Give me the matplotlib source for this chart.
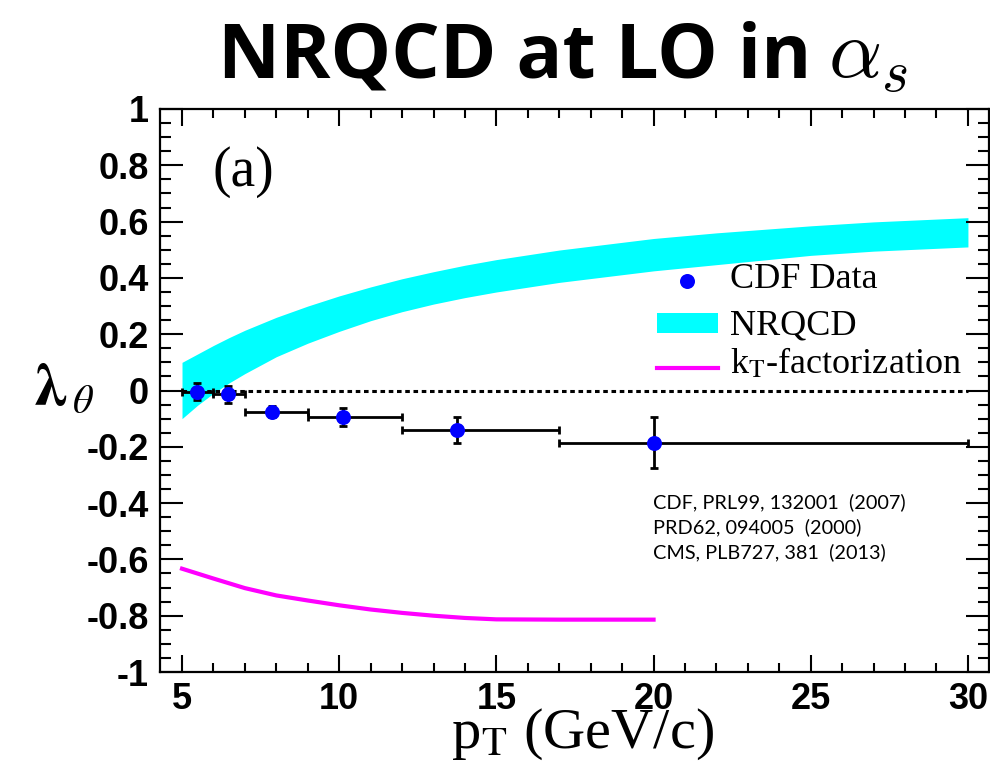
import numpy as np
import matplotlib
matplotlib.use("Agg")
import matplotlib.pyplot as plt
from matplotlib.ticker import MultipleLocator, FixedLocator, FixedFormatter
from matplotlib.patches import Rectangle
from matplotlib.lines import Line2D

plt.rcParams['mathtext.fontset'] = 'stix'
plt.rcParams['axes.unicode_minus'] = False

# CDF data points (pT bin centres, bin edges, lambda_theta, stat+syst error)
pt = [5.47, 6.45, 7.85, 10.13, 13.75, 20.0]
pt_lo = [5, 6, 7, 9, 12, 17]
pt_hi = [6, 7, 9, 12, 17, 30]
lam = [-0.005, -0.014, -0.075, -0.093, -0.140, -0.185]
lam_err = [0.030, 0.030, 0.020, 0.032, 0.045, 0.090]

# NRQCD band (lower / upper edge)
band_pt = [5, 5.5, 6, 6.5, 7, 8, 9, 10, 11, 12, 13, 14, 15, 17, 20, 22, 25, 27, 30]
band_lo = [-0.10, -0.052, -0.01, 0.027, 0.06, 0.12, 0.168, 0.21, 0.248, 0.28,
           0.307, 0.33, 0.35, 0.384, 0.425, 0.447, 0.48, 0.495, 0.51]
band_hi = [0.10, 0.13, 0.16, 0.188, 0.214, 0.26, 0.30, 0.336, 0.368, 0.397,
           0.422, 0.445, 0.465, 0.499, 0.54, 0.56, 0.585, 0.599, 0.614]

# kT-factorization curve
kt_pt = [5, 6, 7, 8, 9, 10, 11, 12, 13, 14, 15, 17, 20]
kt_lam = [-0.633, -0.668, -0.702, -0.728, -0.746, -0.763, -0.778, -0.790,
          -0.800, -0.808, -0.813, -0.814, -0.814]

zero_x = [5, 30]
zero_y = [0, 0]

yticks = [-1, -0.8, -0.6, -0.4, -0.2, 0, 0.2, 0.4, 0.6, 0.8, 1]
ytick_labels = ['-1', '-0.8', '-0.6', '-0.4', '-0.2', '0', '0.2', '0.4', '0.6', '0.8', '1']
xticks = [5, 10, 15, 20, 25, 30]

refs = ['CDF, PRL99, 132001  (2007)', 'PRD62, 094005  (2000)', 'CMS, PLB727, 381  (2013)']

fig = plt.figure(figsize=(9.9, 7.75), dpi=100)
ax = fig.add_axes([160 / 990, 1 - 672 / 775, 829 / 990, 563 / 775])

ax.fill_between(band_pt, band_lo, band_hi, color='#00ffff', lw=0, zorder=1)
ax.plot(kt_pt, kt_lam, color='#ff00ff', lw=3, zorder=2)
ax.plot(zero_x, zero_y, color='black', lw=2.2, ls=(0, (1.5, 1.2)), zorder=2)

pt_a = np.array(pt)
xerr = [pt_a - np.array(pt_lo), np.array(pt_hi) - pt_a]
ax.errorbar(pt, lam, xerr=xerr, yerr=lam_err, fmt='none', ecolor='black',
            elinewidth=2, capsize=2.6, capthick=2, zorder=3)
ax.plot(pt, lam, 'o', color='#0000ff', ms=10.8, mew=0, zorder=4)

ax.set_xlim(4.30, 30.67)
ax.set_ylim(-1, 1)

ax.xaxis.set_major_locator(FixedLocator(xticks))
ax.xaxis.set_minor_locator(MultipleLocator(1))
ax.yaxis.set_major_locator(FixedLocator(yticks))
ax.yaxis.set_major_formatter(FixedFormatter(ytick_labels))
ax.yaxis.set_minor_locator(MultipleLocator(0.05))

for s in ax.spines.values():
    s.set_linewidth(1.6)

ax.tick_params(which='both', direction='in', top=True, right=True, width=1.5)
ax.tick_params(axis='x', which='major', length=12, pad=7)
ax.tick_params(axis='x', which='minor', length=6.5)
ax.tick_params(axis='y', which='major', length=16.5, pad=8)
ax.tick_params(axis='y', which='minor', length=8)
for lbl in ax.get_xticklabels() + ax.get_yticklabels():
    lbl.set_fontfamily('Liberation Sans')
    lbl.set_fontweight('bold')
    lbl.set_fontsize(26)

ax.set_xlabel(r'p$_\mathrm{T}$ (GeV/c)', family='Liberation Serif', fontsize=42, va='top')
ax.xaxis.set_label_coords(0.5102, -0.062)
ax.set_ylabel(r'$\boldsymbol{\lambda}$', fontsize=44, rotation=0,
              ha='center', va='baseline')
ax.yaxis.set_label_coords(-0.1327, 0.4742)
ax.text(-0.093, 0.46, r'$\theta$', transform=ax.transAxes, fontsize=29,
        ha='center', va='baseline', clip_on=False)

ax.text(0.0639, 0.8632, '(a)', transform=ax.transAxes, family='Liberation Serif',
        fontsize=40, va='baseline')

# legend, ROOT style
ax.plot([0.6363], [0.6950], 'o', color='#0000ff', ms=10.8, mew=0, transform=ax.transAxes)
ax.add_patch(Rectangle((0.5995, 0.6021), 0.0736, 0.0356, color='#00ffff', lw=0,
                       transform=ax.transAxes))
ax.add_line(Line2D([0.5995, 0.6731], [0.5400, 0.5400], color='#ff00ff', lw=3,
                   transform=ax.transAxes))
leg_font = dict(family='Liberation Serif', fontsize=26, va='baseline', transform=ax.transAxes)
ax.text(0.6876, 0.6821, 'CDF Data', **leg_font)
ax.text(0.6876, 0.5986, 'NRQCD', **leg_font)
ax.text(0.6876, 0.5311, r'k$_\mathrm{T}$-factorization', **leg_font)

for i, r in enumerate(refs):
    ax.text(0.5943, 0.2913 - i * 0.0444, r, transform=ax.transAxes, family='Lato',
            fontsize=14.3, va='baseline')

fig.text(218 / 990, 1 - 78 / 775, 'NRQCD at LO in', family='Open Sans',
         weight='bold', fontsize=55, va='baseline')
fig.text(828 / 990, 1 - 78 / 775, r'$\alpha_s$', fontsize=60, va='baseline',
         math_fontfamily='cm')

fig.savefig('out.png', dpi=100)
